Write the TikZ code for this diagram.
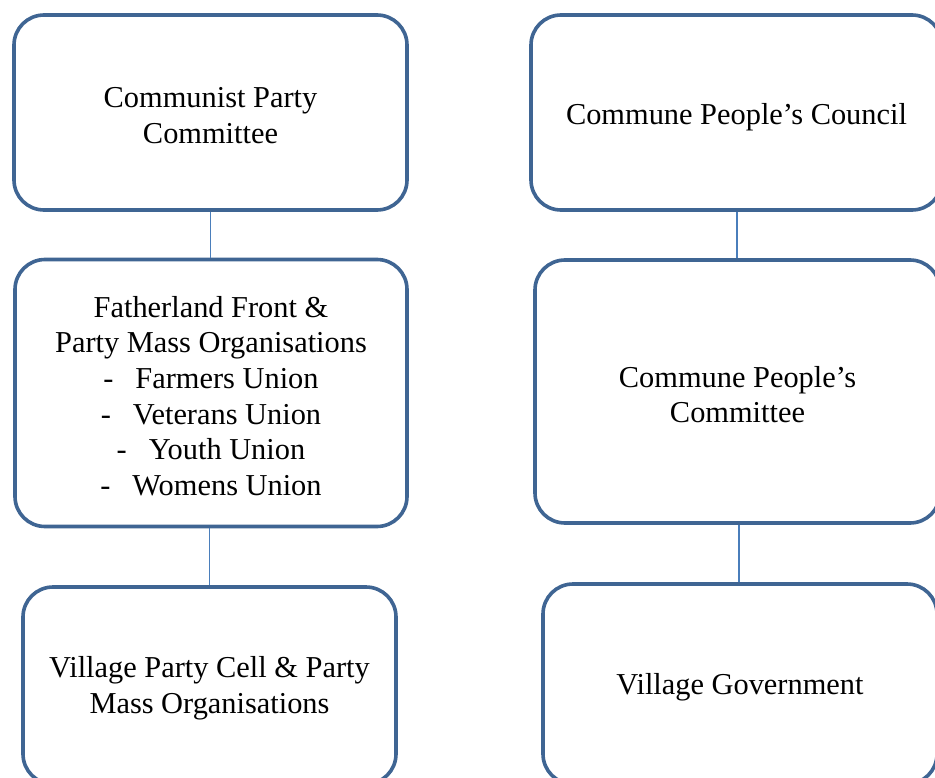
\documentclass[tikz,border=0pt]{standalone}
\usepackage{fontspec}
\setmainfont{Liberation Serif}
\definecolor{boxblue}{HTML}{3F6593}
\definecolor{linkblue}{HTML}{4A7EBB}
\begin{document}
\begin{tikzpicture}[x=1bp,y=-1bp,
  orgbox/.style={draw=boxblue, line width=3.6bp, rounded corners=30bp, fill=white},
  boxtext/.style={align=center, font=\fontsize{30.5}{35.8}\selectfont, inner sep=0pt, yshift=-3bp},
  link/.style={draw=linkblue, line width=1.6bp}]
\useasboundingbox[fill=white] (0,0) rectangle (935,778);
% left column
\node[orgbox, minimum width=393bp, minimum height=195bp,
  label={[boxtext]center:{Communist Party\\Committee}}] (A) at (210.5,112.5) {};
\node[orgbox, minimum width=392bp, minimum height=267bp,
  label={[boxtext]center:{Fatherland Front \&\\Party Mass Organisations\\
   -\hspace{22bp}Farmers Union\\
   -\hspace{22bp}Veterans Union\\
   -\hspace{22bp}Youth Union\\
   -\hspace{22bp}Womens Union}}] (B) at (211,393) {};
\node[orgbox, minimum width=373bp, minimum height=197bp,
  label={[boxtext]center:{Village Party Cell \& Party\\Mass Organisations}}] (C) at (209.5,685.5) {};
% right column
\node[orgbox, minimum width=411bp, minimum height=195bp,
  label={[boxtext, yshift=-2bp]center:{Commune People’s Council}}] (D) at (736.5,112.5) {};
\node[orgbox, minimum width=405bp, minimum height=263bp,
  label={[boxtext]center:{Commune People’s\\Committee}}] (E) at (737.5,391.5) {};
\node[orgbox, minimum width=394bp, minimum height=200bp,
  label={[boxtext]center:{Village Government}}] (F) at (740,684) {};
% connectors
\draw[link] (A.south) -- (A.south |- B.north);
\draw[link] (B.south -| C.north) -- (C.north);
\draw[link] ([xshift=0.5bp]D.south) -- ([xshift=0.5bp]D.south |- E.north);
\draw[link] ([xshift=1.5bp]E.south) -- ([xshift=1.5bp]E.south |- F.north);
\end{tikzpicture}
\end{document}
